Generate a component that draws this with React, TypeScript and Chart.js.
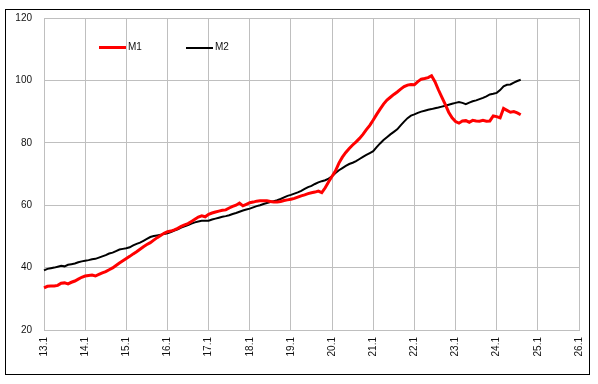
import React, { useEffect, useRef } from "react";
import { Chart, registerables } from "chart.js";

Chart.register(...registerables);

// January labels of every year on the axis
const yearStarts = ["13", "14", "15", "16", "17", "18", "19", "20", "21", "22", "23", "24", "25", "26"];
const monthNums = [1, 2, 3, 4, 5, 6, 7, 8, 9, 10, 11, 12];

// Monthly categories 13.1 ... 26.1
const labels: string[] = [];
yearStarts.forEach((y, i) => {
  if (i === yearStarts.length - 1) {
    labels.push(`${y}.1`);
  } else {
    monthNums.forEach((m) => labels.push(`${y}.${m}`));
  }
});

// M1 (red), monthly from 13.1 to 24.8
const m1 = [
  33.5, 34.0, 34.1, 34.1, 34.3, 35.0, 35.1, 34.8, 35.3, 35.7, 36.3, 36.9,
  37.3, 37.5, 37.6, 37.3, 37.8, 38.3, 38.7, 39.3, 39.9, 40.7, 41.5, 42.2,
  42.9, 43.6, 44.4, 45.1, 45.9, 46.7, 47.4, 48.0, 48.8, 49.6, 50.3, 51.0,
  51.5, 51.7, 52.1, 52.6, 53.2, 53.7, 54.1, 54.8, 55.5, 56.2, 56.6, 56.3,
  57.1, 57.5, 57.8, 58.1, 58.4, 58.5, 59.1, 59.6, 60.0, 60.7, 59.8, 60.3,
  60.8, 61.0, 61.3, 61.4, 61.4, 61.4, 61.2, 61.0, 61.0, 61.2, 61.5, 61.7,
  61.9, 62.2, 62.6, 63.0, 63.3, 63.7, 64.0, 64.2, 64.5, 64.0, 65.6, 67.5,
  69.3, 71.0, 73.5, 75.4, 76.9, 78.2, 79.3, 80.3, 81.4, 82.7, 84.2, 85.6,
  87.3, 89.1, 90.8, 92.4, 93.7, 94.6, 95.5, 96.3, 97.2, 98.0, 98.5, 98.7,
  98.6, 99.6, 100.4, 100.6, 100.9, 101.5, 99.6, 97.0, 94.6, 92.3, 89.8, 88.0,
  86.8, 86.3, 87.0, 87.1, 86.6, 87.2, 87.0, 86.9, 87.2, 86.9, 87.0, 88.6,
  88.4, 88.0, 91.0, 90.4, 89.8, 90.0, 89.6, 89.0,
];

// M2 (black), monthly from 13.1 to 24.8
const m2 = [
  39.1, 39.6, 39.8, 40.0, 40.3, 40.6, 40.4, 40.9, 41.1, 41.3, 41.7, 42.0,
  42.2, 42.4, 42.7, 42.8, 43.2, 43.6, 44.0, 44.5, 44.8, 45.3, 45.8, 46.0,
  46.2, 46.5, 47.1, 47.6, 48.0, 48.6, 49.2, 49.8, 50.1, 50.3, 50.5, 50.8,
  51.0, 51.4, 51.9, 52.3, 52.8, 53.2, 53.6, 54.1, 54.5, 54.8, 55.0, 55.0,
  55.0, 55.4, 55.7, 56.0, 56.3, 56.5, 56.8, 57.2, 57.5, 57.9, 58.3, 58.6,
  58.9, 59.3, 59.7, 60.0, 60.4, 60.7, 61.0, 61.3, 61.6, 62.0, 62.5, 63.0,
  63.3, 63.7, 64.1, 64.6, 65.2, 65.8, 66.2, 66.8, 67.3, 67.7, 68.0, 68.5,
  69.3, 70.3, 71.2, 71.9, 72.6, 73.2, 73.6, 74.1, 74.8, 75.5, 76.1, 76.7,
  77.3, 78.6, 79.8, 80.9, 81.8, 82.7, 83.5, 84.3, 85.6, 86.8, 87.9, 88.7,
  89.1, 89.6, 90.0, 90.3, 90.6, 90.8, 91.1, 91.3, 91.6, 91.9, 92.2, 92.5,
  92.8, 93.1, 92.8, 92.4, 92.9, 93.3, 93.6, 94.0, 94.4, 94.9, 95.5, 95.7,
  96.0, 96.9, 98.1, 98.6, 98.7, 99.3, 99.8, 100.2,
];

const seriesNames = ["M1", "M2"];
const seriesColors = ["#ff0000", "#000000"];

const FONT = "'Liberation Sans', Arial, sans-serif";
const GRID = "#bfbfbf";

export default function App() {
  const ref = useRef<HTMLCanvasElement | null>(null);

  useEffect(() => {
    if (!ref.current) return;
    const chart = new Chart(ref.current, {
      type: "line",
      data: {
        labels,
        datasets: [
          {
            label: seriesNames[0],
            data: m1,
            borderColor: seriesColors[0],
            backgroundColor: seriesColors[0],
            borderWidth: 3,
            pointRadius: 0,
            tension: 0,
          },
          {
            label: seriesNames[1],
            data: m2,
            borderColor: seriesColors[1],
            backgroundColor: seriesColors[1],
            borderWidth: 2,
            pointRadius: 0,
            tension: 0,
          },
        ],
      },
      options: {
        responsive: false,
        animation: false,
        layout: { padding: { left: 0, top: 16, right: 15, bottom: 0 } },
        plugins: { legend: { display: false }, tooltip: { enabled: false } },
        scales: {
          x: {
            type: "category",
            offset: false,
            afterBuildTicks: (scale: any) => {
              scale.ticks = scale.ticks.filter((t: any) => labels[t.value].endsWith(".1") && !labels[t.value].endsWith(".11"));
            },
            afterFit: (scale: any) => {
              scale.height = 54;
            },
            grid: { color: GRID, lineWidth: 1, drawTicks: false },
            border: { color: GRID, width: 1 },
            ticks: {
              autoSkip: false,
              maxRotation: 90,
              minRotation: 90,
              padding: 7,
              color: "#111",
              font: { family: FONT, size: 10 },
            },
          },
          y: {
            min: 20,
            max: 120,
            afterFit: (scale: any) => {
              scale.width = 44;
            },
            grid: { color: GRID, lineWidth: 1, drawTicks: false },
            border: { color: GRID, width: 1 },
            ticks: {
              stepSize: 20,
              padding: 12,
              color: "#111",
              font: { family: FONT, size: 10 },
            },
          },
        },
      },
    });
    return () => chart.destroy();
  }, []);

  const legendText: React.CSSProperties = {
    position: "absolute",
    fontFamily: FONT,
    fontSize: 10,
    color: "#111",
    lineHeight: "12px",
    top: 41,
  };

  return (
    <div style={{ position: "absolute", left: 0, top: 0, width: 598, height: 384, background: "#fff" }}>
      <canvas ref={ref} width={598} height={384} style={{ position: "absolute", left: 0, top: 0, width: 598, height: 384 }} />
      <div
        style={{
          position: "absolute",
          left: 5,
          top: 9,
          width: 585,
          height: 366,
          border: "1px solid #000",
          boxSizing: "border-box",
          pointerEvents: "none",
        }}
      />
      <div style={{ position: "absolute", left: 99, top: 46, width: 27, height: 3, background: seriesColors[0] }} />
      <div style={{ ...legendText, left: 128 }}>{seriesNames[0]}</div>
      <div style={{ position: "absolute", left: 186, top: 46.5, width: 27, height: 2, background: seriesColors[1] }} />
      <div style={{ ...legendText, left: 215 }}>{seriesNames[1]}</div>
    </div>
  );
}
